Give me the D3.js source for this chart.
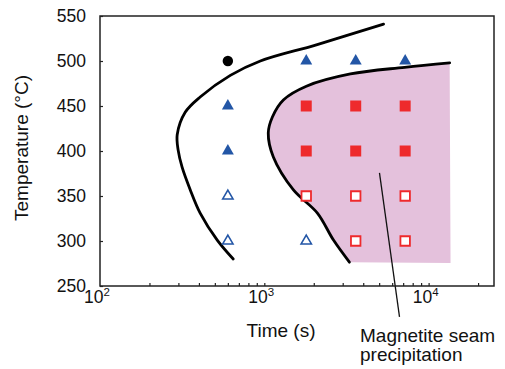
<!DOCTYPE html>
<html>
<head>
<meta charset="utf-8">
<script src="https://cdn.jsdelivr.net/npm/d3@7"></script>
<style>
  html, body { margin: 0; padding: 0; background: #fff; }
  svg { display: block; }
  text { font-family: "Liberation Sans", Arial, Helvetica, sans-serif; fill: #111; }
</style>
</head>
<body>
<svg id="chart" width="505" height="369"></svg>
<script>
// ---- data ----
const xDomain = [100, 25000];
const yDomain = [250, 550];
const yTicks = [250, 300, 350, 400, 450, 500, 550];
const xMajorTicks = [{v: 100, e: "2"}, {v: 1000, e: "3"}, {v: 10000, e: "4"}];

const blackCircle    = [[600, 500]];
const filledTriangle = [[600, 450], [600, 400], [1800, 500], [3600, 500], [7200, 500]];
const openTriangle   = [[600, 350], [600, 300], [1800, 300]];
const filledSquare   = [[1800, 450], [1800, 400], [3600, 450], [3600, 400], [7200, 450], [7200, 400]];
const openSquare     = [[1800, 350], [3600, 350], [3600, 300], [7200, 350], [7200, 300]];

// boundary curves (time s, temperature °C)
const leftCurve = [
  [5320, 541], [2075, 518], [946, 500], [621, 484], [407, 460], [330, 443],
  [295, 418], [299, 401], [316, 382], [354, 357], [407, 331], [517, 301], [647, 280]
];
const rightCurve = [
  [13430, 498], [7145, 493], [3342, 485.6], [1803, 472], [1306, 456.7], [1120, 437.8],
  [1057, 420], [1135, 393.3], [1504, 356.7], [2104, 331], [2636, 301], [3296, 276.5]
];
const regionCorner = [13600, 275.6];
const annotationLine = [[5023, 375.6], [6650, 215.6]];
const annotationText = ["Magnetite seam", "precipitation"];

// ---- layout ----
const margin = {left: 100, top: 16, right: 11, bottom: 83};
const W = 505, H = 369;
const iw = W - margin.left - margin.right;
const ih = H - margin.top - margin.bottom;

const svg = d3.select("#chart");
const g = svg.append("g").attr("transform", `translate(${margin.left},${margin.top})`);

const x = d3.scaleLog().domain(xDomain).range([0, iw]);
const y = d3.scaleLinear().domain(yDomain).range([ih, 0]);

const line = d3.line().x(d => x(d[0])).y(d => y(d[1]));
const smooth = d3.line().x(d => x(d[0])).y(d => y(d[1])).curve(d3.curveCatmullRom.alpha(0.5));

// pink region
const regionPts = rightCurve.concat([regionCorner]);
const areaPath = smooth(rightCurve) + "L" + x(regionCorner[0]) + "," + y(regionCorner[1]) + "Z";
g.append("path").attr("d", areaPath).attr("fill", "#e4c1dc").attr("stroke", "none");

// curves
g.append("path").attr("d", smooth(leftCurve)).attr("fill", "none").attr("stroke", "#000").attr("stroke-width", 2.8).attr("stroke-linecap", "round");
g.append("path").attr("d", smooth(rightCurve)).attr("fill", "none").attr("stroke", "#000").attr("stroke-width", 2.8).attr("stroke-linecap", "round");

// markers
const blue = "#2356a6", red = "#ee2a2c";
function markers(data, type, size, fill, stroke, sw) {
  g.selectAll(null).data(data).enter().append("path")
    .attr("transform", d => `translate(${x(d[0])},${y(d[1])})`)
    .attr("d", d3.symbol().type(type).size(size)())
    .attr("fill", fill).attr("stroke", stroke).attr("stroke-width", sw);
}
markers(blackCircle, d3.symbolCircle, 85, "#000", "none", 0);
markers(filledTriangle, d3.symbolTriangle, 62, blue, "none", 0);
markers(openTriangle, d3.symbolTriangle, 46, "#fff", blue, 1.6);
markers(filledSquare, d3.symbolSquare, 121, red, "none", 0);
markers(openSquare, d3.symbolSquare, 90, "#fff", red, 1.8);

// annotation line
g.append("path").attr("d", line(annotationLine)).attr("stroke", "#111").attr("stroke-width", 1.3).attr("fill", "none");

// axes frame
g.append("rect").attr("x", 0).attr("y", 0).attr("width", iw).attr("height", ih)
  .attr("fill", "none").attr("stroke", "#222").attr("stroke-width", 1.5);

// y ticks (inward)
const ya = d3.axisLeft(y).tickValues(yTicks).tickSizeInner(-3).tickSizeOuter(0).tickPadding(14);
const yg = g.append("g").call(ya);
yg.select(".domain").remove();
yg.selectAll("line").attr("stroke", "#222").attr("stroke-width", 1.2);
yg.selectAll("text").style("font-size", "17.5px").attr("fill", "#111")
  .style("font-family", '"Liberation Sans", Arial, sans-serif');

// x ticks (inward), minor + major
const minorTicks = x.ticks().filter(v => v > xDomain[0] && v < xDomain[1]);
const xa = d3.axisBottom(x).tickValues(minorTicks).tickSizeInner(-3).tickSizeOuter(0).tickFormat("");
const xg = g.append("g").attr("transform", `translate(0,${ih})`).call(xa);
xg.select(".domain").remove();
xg.selectAll("line").attr("stroke", "#222").attr("stroke-width", 1.2);

// x major labels 10^n
const lab = g.append("g").attr("transform", `translate(0,${ih})`);
xMajorTicks.forEach(t => {
  const tx = lab.append("text").attr("x", x(t.v) - 3).attr("y", 17).attr("text-anchor", "middle")
    .style("font-size", "17.5px");
  tx.append("tspan").text("10");
  tx.append("tspan").text(t.e).attr("dy", -7).style("font-size", "11.5px");
});

// axis titles
svg.append("text").attr("x", 281).attr("y", 337).attr("text-anchor", "middle")
  .style("font-size", "19px").text("Time (s)");
svg.append("text").attr("transform", "translate(28,148) rotate(-90)").attr("text-anchor", "middle")
  .style("font-size", "19px").text("Temperature (°C)");

// annotation text
annotationText.forEach((s, i) => {
  svg.append("text").attr("x", 360).attr("y", 342 + i * 19).style("font-size", "19px").text(s);
});
</script>
</body>
</html>
